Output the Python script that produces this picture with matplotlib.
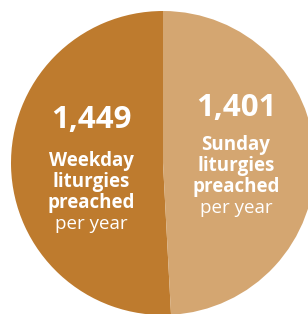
import matplotlib.pyplot as plt

plt.rcParams['font.family'] = ['Open Sans', 'DejaVu Sans']

# data
labels = ['Weekday', 'Sunday']
values = [1449, 1401]
numbers = ['1,449', '1,401']
colors = ['#BE7B2E', '#D4A671']

W, H = 308, 314
CX, CY, R = 163, 163, 152  # circle centre/radius in pixels (partly cropped)


def px(x, y):
    # pixel position (from top left) -> data coords
    return (x - CX) / R, (CY - y) / R


fig = plt.figure(figsize=(W / 100, H / 100), dpi=100)
ax = fig.add_axes([0, 0, 1, 1])
ax.pie(values, colors=colors, startangle=90, counterclock=True,
       radius=1, wedgeprops=dict(linewidth=0))
ax.set_xlim(-CX / R, (W - CX) / R)
ax.set_ylim(-(H - CY) / R, CY / R)
ax.set_aspect('auto')
ax.axis('off')

# text blocks: centre x, baseline of number, baseline of first label line
blocks = [(91, 128, 166), (236, 116, 150)]
for (x, ynum, y0), num, lab in zip(blocks, numbers, labels):
    ax.text(*px(x, ynum), num, color='white', fontsize=22.5, fontweight='bold',
            ha='center', va='baseline')
    lines = [lab, 'liturgies', 'preached']
    for i, s in enumerate(lines):
        ax.text(*px(x, y0 + 21 * i), s, color='white', fontsize=13.5,
                fontweight='bold', ha='center', va='baseline')
    ax.text(*px(x, y0 + 21 * 3), 'per year', color='white', fontsize=13.5,
            ha='center', va='baseline')

fig.savefig('out.png', dpi=100)
